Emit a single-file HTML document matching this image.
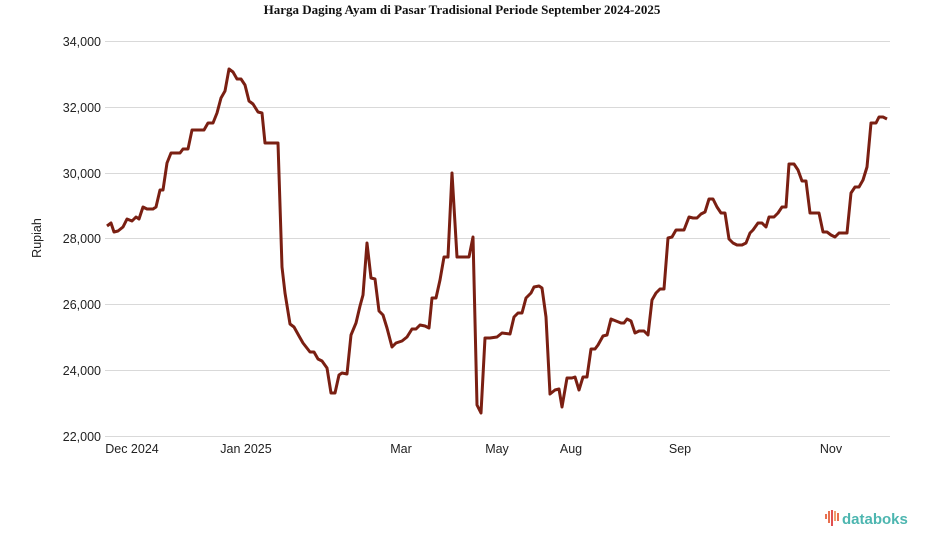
<!DOCTYPE html>
<html><head><meta charset="utf-8"><style>
body{margin:0;background:#fff;}
svg{display:block;font-family:"Liberation Sans",sans-serif;}
</style></head><body>
<svg width="925" height="547" viewBox="0 0 925 547">
<text x="462" y="14" text-anchor="middle" font-family="Liberation Serif,serif" font-weight="bold" font-size="13" fill="#111">Harga Daging Ayam di Pasar Tradisional Periode September 2024-2025</text>
<g stroke="#d9d9d9" stroke-width="1">
<line x1="105" x2="890" y1="41.5" y2="41.5"/>
<line x1="105" x2="890" y1="107.5" y2="107.5"/>
<line x1="105" x2="890" y1="173.5" y2="173.5"/>
<line x1="105" x2="890" y1="238.5" y2="238.5"/>
<line x1="105" x2="890" y1="304.5" y2="304.5"/>
<line x1="105" x2="890" y1="370.5" y2="370.5"/>
<line x1="105" x2="890" y1="436.5" y2="436.5"/>
</g>
<g font-size="12.5" fill="#222" text-anchor="end">
<text x="101" y="46">34,000</text>
<text x="101" y="112">32,000</text>
<text x="101" y="178">30,000</text>
<text x="101" y="243">28,000</text>
<text x="101" y="309">26,000</text>
<text x="101" y="375">24,000</text>
<text x="101" y="441">22,000</text>
</g>
<text transform="translate(41,238) rotate(-90)" text-anchor="middle" font-size="12.5" fill="#222">Rupiah</text>
<g font-size="12.5" fill="#222" text-anchor="middle">
<text x="132" y="453">Dec 2024</text>
<text x="246" y="453">Jan 2025</text>
<text x="401" y="453">Mar</text>
<text x="497" y="453">May</text>
<text x="571" y="453">Aug</text>
<text x="680" y="453">Sep</text>
<text x="831" y="453">Nov</text>
</g>
<polyline fill="none" stroke="#7a1f12" stroke-width="3" stroke-linejoin="round" points="107,226 111,223 114,232 118,231 123,227 127,219 132,221 136,217 139,219 143,207 147,209 153,209 156,207 160,190 163,190 167,163 171,153 180,153 183,149 188,149 192,130 204,130 208,123 213,123 217,113 221,98 225,91 229,69 233,72 237,79 241,79 245,85 249,101 253,104 258,112 262,113 265,143 278,143 282,267 285,293 290,324 294,327 299,336 303,343 310,352 314,352 318,359 322,361 327,368 331,393 335,393 339,375 342,373 347,374 351,335 356,323 360,306 363,295 367,243 371,278 375,279 379,311 383,315 387,328 392,347 396,343 402,341 407,337 412,329 416,329 420,325 425,326 429,328 432,298 436,298 440,280 444,257 448,257 452,173 457,257 469,257 473,237 477,405 481,413 485,338 490,338 497,337 502,333 510,334 514,317 518,313 522,313 526,298 531,293 534,287 539,286 542,288 546,317 550,394 555,390 559,389 562,407 567,378 572,378 575,377 579,390 583,377 587,377 591,349 595,349 598,345 603,336 607,335 611,319 616,321 621,323 624,323 627,319 631,321 635,333 639,331 644,331 648,335 652,300 656,293 660,289 664,289 668,238 672,237 676,230 684,230 689,217 693,218 697,218 701,214 705,212 709,199 713,199 717,207 721,213 725,213 729,239 733,243 737,245 742,245 746,243 750,233 753,230 758,223 762,223 766,227 769,217 774,217 778,213 782,207 786,207 789,164 794,164 798,170 802,181 806,181 810,213 819,213 823,232 827,232 831,235 835,237 839,233 847,233 851,193 855,187 859,187 863,180 867,167 871,123 876,123 879,117 883,117 887,119"/>
<g>
<rect x="825" y="514" width="2" height="5" fill="#e8704f"/>
<rect x="828" y="511" width="2" height="12" fill="#e8704f"/>
<rect x="831" y="510" width="2" height="16" fill="#e05050"/>
<rect x="834" y="511" width="2" height="10" fill="#f0a070"/>
<rect x="837" y="513" width="2" height="8" fill="#e8704f"/>
<text x="842" y="524" font-size="15" font-weight="bold" fill="#4db6b0">databoks</text>
</g>
</svg>
</body></html>
